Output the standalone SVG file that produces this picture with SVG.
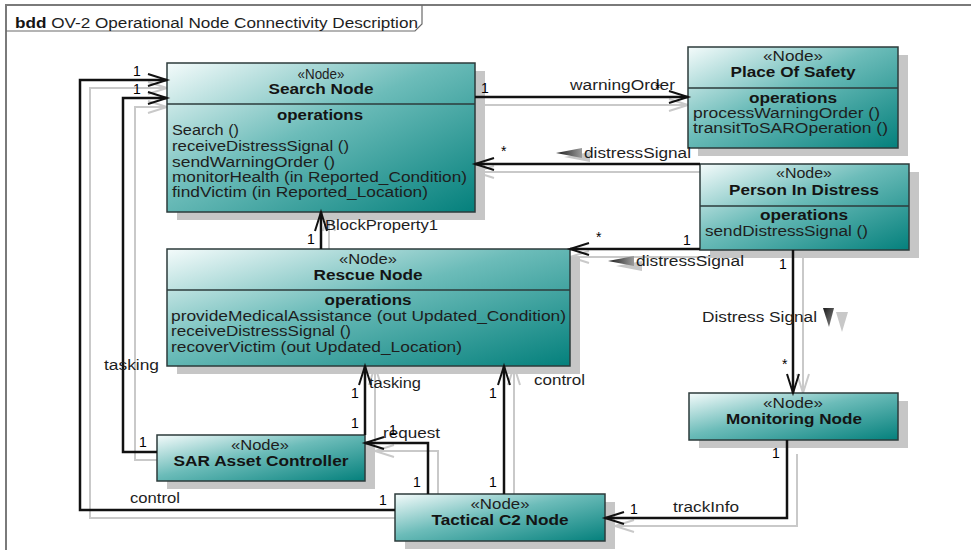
<svg xmlns="http://www.w3.org/2000/svg" width="971" height="550" viewBox="0 0 971 550">
<style>
.frame{fill:none;stroke:#7a7a7a;stroke-width:2}
.tab{fill:none;stroke:#6a6a6a;stroke-width:1.2}
.box{fill:url(#teal);stroke:#2d3b3b;stroke-width:1.5}
.nshadow{fill:#c6c6c6}
.div{stroke:#2d3b3b;stroke-width:1.5}
text{font-family:"Liberation Sans",Arial,sans-serif;font-size:14px;fill:#1e1e1e}
.c{text-anchor:middle}
.b{font-weight:bold;fill:#141414}
.m{font-size:14px;fill:#000}
.conn{fill:none;stroke:#111;stroke-width:2.5;marker-end:url(#arr)}
.cs{fill:none;stroke:#c9c9c9;stroke-width:2;marker-end:url(#arrs)}
.tri{fill:url(#trig)}
.tris{fill:#c8c8c8}
</style>
<defs>
<linearGradient id="teal" x1="0" y1="0" x2="1" y2="1">
<stop offset="0" stop-color="#f4fbfb"/>
<stop offset="0.45" stop-color="#6cbcb9"/>
<stop offset="1" stop-color="#04807c"/>
</linearGradient>
<linearGradient id="trig" x1="0" y1="0" x2="1" y2="0">
<stop offset="0" stop-color="#1a1a1a"/>
<stop offset="1" stop-color="#9c9c9c"/>
</linearGradient>
<linearGradient id="trigv" x1="0" y1="0" x2="1" y2="1">
<stop offset="0" stop-color="#1a1a1a"/>
<stop offset="1" stop-color="#8a8a8a"/>
</linearGradient>
<marker id="arr" markerUnits="userSpaceOnUse" markerWidth="24" markerHeight="16" refX="20" refY="7" orient="auto">
<path d="M1,1 L20,7 L1,13" fill="none" stroke="#111" stroke-width="2"/>
</marker>
<marker id="arrs" markerUnits="userSpaceOnUse" markerWidth="24" markerHeight="16" refX="20" refY="7" orient="auto">
<path d="M1,1 L20,7 L1,13" fill="none" stroke="#c9c9c9" stroke-width="2"/>
</marker>
</defs>
<rect x="0" y="0" width="971" height="550" fill="#fff"/>
<g id="frame">
<path class="frame" d="M6,550 V5 H971"/>
<path class="tab" d="M6,31 H415 L422,24 V5"/>
<text x="15" y="28" textLength="403" lengthAdjust="spacingAndGlyphs"><tspan class="b">bdd</tspan> OV-2 Operational Node Connectivity Description</text>
</g>
<g id="connector-shadows">
<path class="cs" d="M395,518 H90 V88 H167"/>
<path class="cs" d="M157,460 H135 V107 H167"/>
<path class="cs" d="M480,105 H688"/>
<path class="cs" d="M710,172 H475"/>
<path class="cs" d="M710,257 H570"/>
<path class="cs" d="M329,257 V212"/>
<path class="cs" d="M803,258 V393"/>
<path class="cs" d="M375,443 V366"/>
<path class="cs" d="M514,502 V366"/>
<path class="cs" d="M438,502 V451 H375"/>
<path class="cs" d="M797,454 V526 H615"/>
</g>
<g id="search-node">
<rect class="nshadow" x="177" y="71" width="308" height="149"/>
<rect class="box" x="167" y="63" width="308" height="149"/>
<line class="div" x1="167" y1="104" x2="475" y2="104"/>
<text class="c" x="321" y="79" textLength="47" lengthAdjust="spacingAndGlyphs">«Node»</text>
<text class="c b" x="321" y="94" textLength="105" lengthAdjust="spacingAndGlyphs">Search Node</text>
<text class="c b" x="320" y="120" textLength="86" lengthAdjust="spacingAndGlyphs">operations</text>
<text x="172" y="135" textLength="67" lengthAdjust="spacingAndGlyphs">Search ()</text>
<text x="172" y="151" textLength="177" lengthAdjust="spacingAndGlyphs">receiveDistressSignal ()</text>
<text x="172" y="167" textLength="163" lengthAdjust="spacingAndGlyphs">sendWarningOrder ()</text>
<text x="172" y="182" textLength="295" lengthAdjust="spacingAndGlyphs">monitorHealth (in Reported_Condition)</text>
<text x="172" y="197" textLength="256" lengthAdjust="spacingAndGlyphs">findVictim (in Reported_Location)</text>
</g>
<g id="place-of-safety">
<rect class="nshadow" x="698" y="55" width="210" height="101"/>
<rect class="box" x="688" y="47" width="210" height="101"/>
<line class="div" x1="688" y1="88" x2="898" y2="88"/>
<text class="c" x="793" y="61" textLength="60" lengthAdjust="spacingAndGlyphs">«Node»</text>
<text class="c b" x="793" y="77" textLength="125" lengthAdjust="spacingAndGlyphs">Place Of Safety</text>
<text class="c b" x="793" y="103" textLength="88" lengthAdjust="spacingAndGlyphs">operations</text>
<text x="693" y="118" textLength="187" lengthAdjust="spacingAndGlyphs">processWarningOrder ()</text>
<text x="693" y="133" textLength="195" lengthAdjust="spacingAndGlyphs">transitToSAROperation ()</text>
</g>
<g id="person-in-distress">
<rect class="nshadow" x="710" y="172" width="209" height="86"/>
<rect class="box" x="700" y="164" width="209" height="86"/>
<line class="div" x1="700" y1="206" x2="909" y2="206"/>
<text class="c" x="804" y="178" textLength="56" lengthAdjust="spacingAndGlyphs">«Node»</text>
<text class="c b" x="804" y="195" textLength="150" lengthAdjust="spacingAndGlyphs">Person In Distress</text>
<text class="c b" x="804" y="220" textLength="88" lengthAdjust="spacingAndGlyphs">operations</text>
<text x="705" y="236" textLength="163" lengthAdjust="spacingAndGlyphs">sendDistressSignal ()</text>
</g>
<g id="rescue-node">
<rect class="nshadow" x="177" y="257" width="403" height="117"/>
<rect class="box" x="167" y="249" width="403" height="117"/>
<line class="div" x1="167" y1="290" x2="570" y2="290"/>
<text class="c" x="368" y="264" textLength="58" lengthAdjust="spacingAndGlyphs">«Node»</text>
<text class="c b" x="368" y="280" textLength="109" lengthAdjust="spacingAndGlyphs">Rescue Node</text>
<text class="c b" x="368" y="305" textLength="87" lengthAdjust="spacingAndGlyphs">operations</text>
<text x="171" y="321" textLength="395" lengthAdjust="spacingAndGlyphs">provideMedicalAssistance (out Updated_Condition)</text>
<text x="171" y="336" textLength="180" lengthAdjust="spacingAndGlyphs">receiveDistressSignal ()</text>
<text x="171" y="352" textLength="291" lengthAdjust="spacingAndGlyphs">recoverVictim (out Updated_Location)</text>
</g>
<g id="monitoring-node">
<rect class="nshadow" x="699" y="401" width="209" height="47"/>
<rect class="box" x="689" y="393" width="209" height="47"/>
<text class="c" x="793" y="408" textLength="60" lengthAdjust="spacingAndGlyphs">«Node»</text>
<text class="c b" x="794" y="424" textLength="136" lengthAdjust="spacingAndGlyphs">Monitoring Node</text>
</g>
<g id="sar-asset-controller">
<rect class="nshadow" x="167" y="443" width="208" height="46"/>
<rect class="box" x="157" y="435" width="208" height="46"/>
<text class="c" x="260" y="450" textLength="58" lengthAdjust="spacingAndGlyphs">«Node»</text>
<text class="c b" x="261" y="466" textLength="175" lengthAdjust="spacingAndGlyphs">SAR Asset Controller</text>
</g>
<g id="tactical-c2-node">
<rect class="nshadow" x="405" y="502" width="210" height="47"/>
<rect class="box" x="395" y="494" width="210" height="47"/>
<text class="c" x="500" y="509" textLength="59" lengthAdjust="spacingAndGlyphs">«Node»</text>
<text class="c b" x="500" y="525" textLength="137" lengthAdjust="spacingAndGlyphs">Tactical C2 Node</text>
</g>
<g id="connectors">
<path class="conn" d="M395,510 H80 V80 H167"/>
<path class="conn" d="M157,452 H123 V98 H167"/>
<path class="conn" d="M475,97 H688"/>
<path class="conn" d="M700,164 H475"/>
<path class="conn" d="M700,249 H570"/>
<path class="conn" d="M321,249 V212"/>
<path class="conn" d="M793,250 V393"/>
<path class="conn" d="M365,435 V366"/>
<path class="conn" d="M504,494 V366"/>
<path class="conn" d="M428,494 V443 H365"/>
<path class="conn" d="M787,440 V518 H605"/>
</g>
<g id="labels">
<text class="m" x="133" y="76">1</text>
<text class="m" x="133" y="94">1</text>
<text class="m" x="481" y="93">1</text>
<text x="570" y="90" textLength="105" lengthAdjust="spacingAndGlyphs">warningOrder</text>
<text class="m" x="655" y="93">*</text>
<text class="m" x="501" y="156">*</text>
<polygon class="tris" points="564,157 590,152 590,162"/>
<polygon class="tri" points="556,153 582,148 582,158"/>
<text x="584" y="158" textLength="107" lengthAdjust="spacingAndGlyphs">distressSignal</text>
<text x="325" y="230" textLength="113" lengthAdjust="spacingAndGlyphs">BlockProperty1</text>
<text class="m" x="307" y="244">1</text>
<text class="m" x="596" y="242">*</text>
<text class="m" x="683" y="245">1</text>
<polygon class="tris" points="616,266 642,261 642,271"/>
<polygon class="tri" points="608,261 634,256 634,266"/>
<text x="636" y="266" textLength="108" lengthAdjust="spacingAndGlyphs">distressSignal</text>
<text class="m" x="779" y="269">1</text>
<text x="702" y="322" textLength="115" lengthAdjust="spacingAndGlyphs">Distress Signal</text>
<polygon class="tris" points="836,312 848,312 842,332"/>
<polygon points="823,308 834,308 829,327" fill="url(#trigv)"/>
<text class="m" x="782" y="369">*</text>
<text x="104" y="370" textLength="55" lengthAdjust="spacingAndGlyphs">tasking</text>
<text x="369" y="388" textLength="52" lengthAdjust="spacingAndGlyphs">tasking</text>
<text x="534" y="385" textLength="51" lengthAdjust="spacingAndGlyphs">control</text>
<text class="m" x="351" y="398">1</text>
<text class="m" x="489" y="398">1</text>
<text class="m" x="351" y="428">1</text>
<text x="383" y="438" textLength="57" lengthAdjust="spacingAndGlyphs">request</text>
<text class="m" x="389" y="435">1</text>
<text class="m" x="139" y="447">1</text>
<text class="m" x="413" y="487">1</text>
<text class="m" x="489" y="487">1</text>
<text x="130" y="503" textLength="50" lengthAdjust="spacingAndGlyphs">control</text>
<text class="m" x="379" y="505">1</text>
<text class="m" x="772" y="458">1</text>
<text class="m" x="630" y="514">1</text>
<text x="673" y="512" textLength="66" lengthAdjust="spacingAndGlyphs">trackInfo</text>
</g>
</svg>
